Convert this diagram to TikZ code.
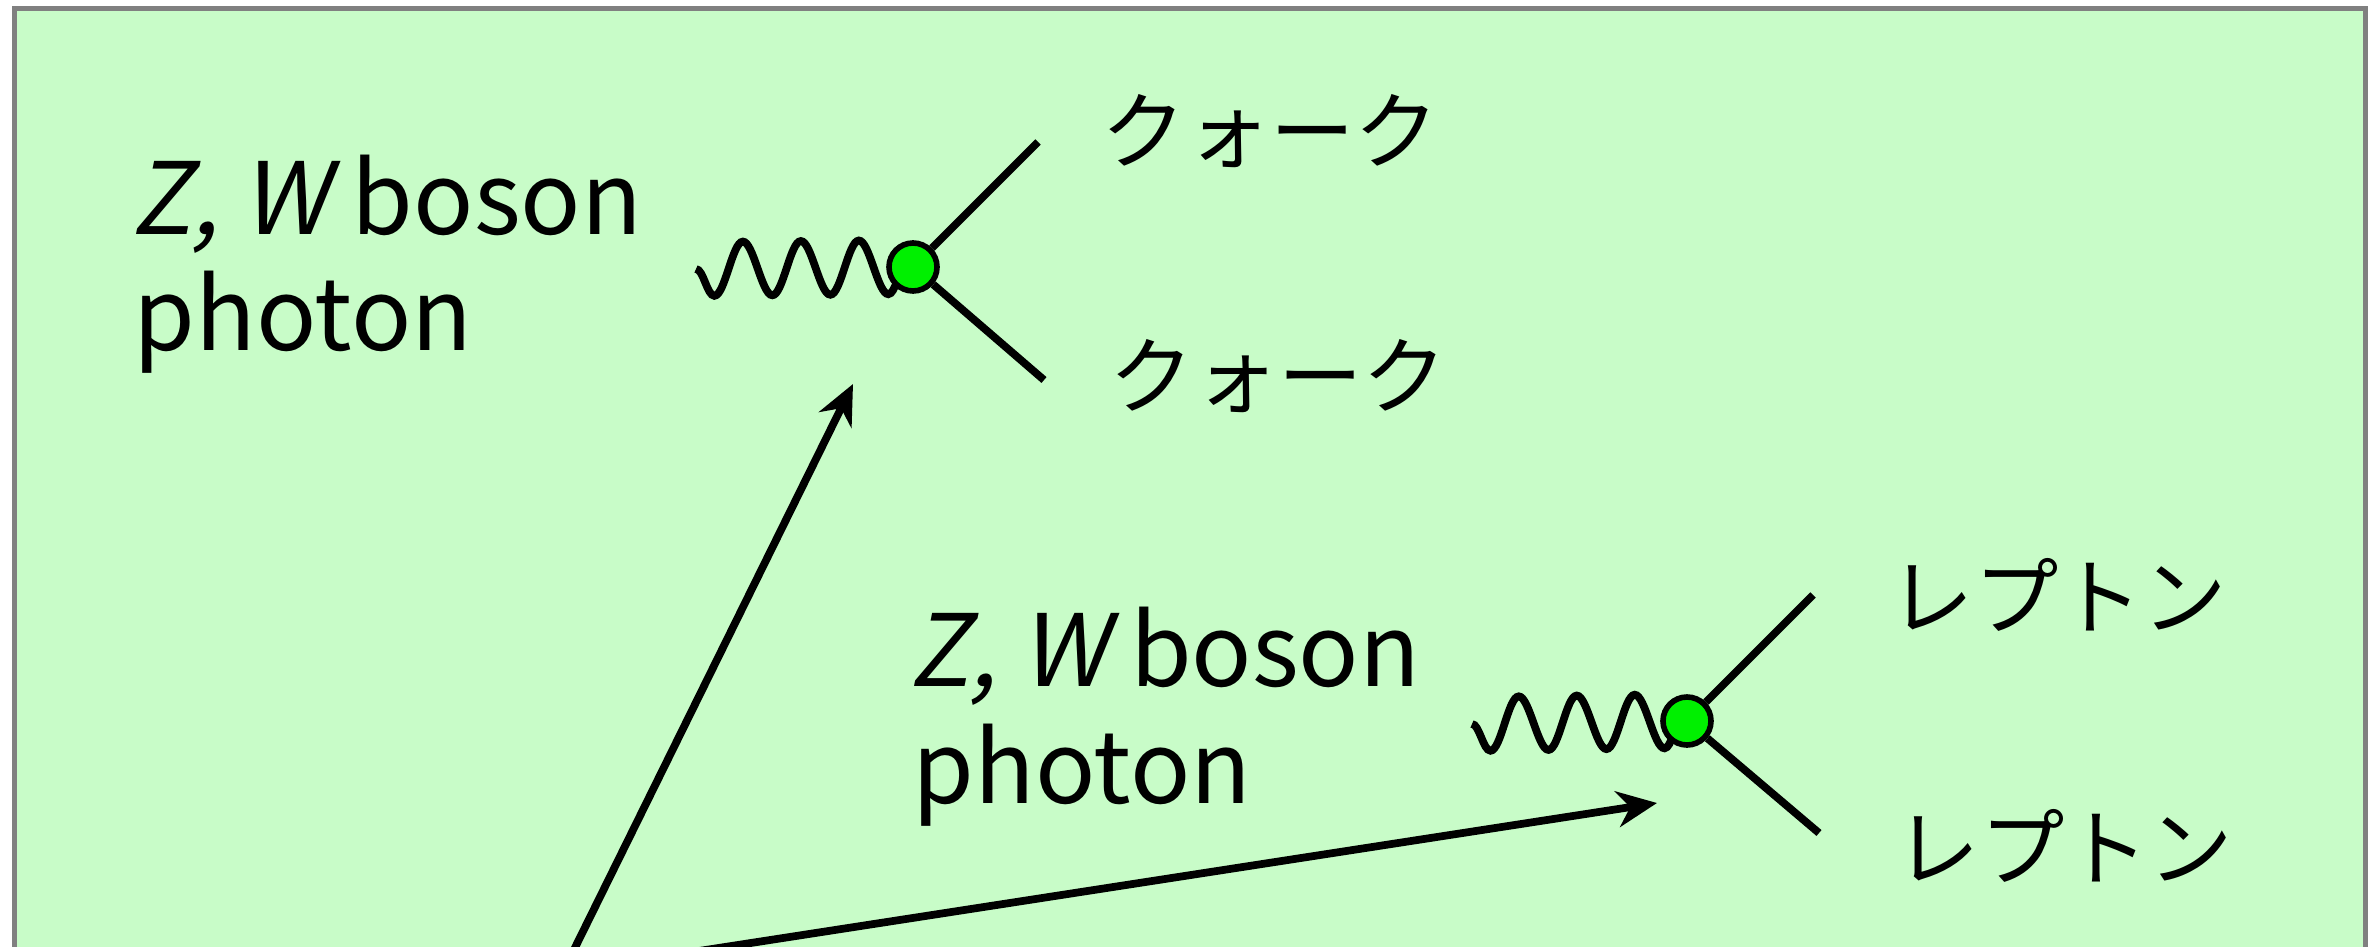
\documentclass[tikz,border=0pt]{standalone}
\usepackage{fontspec}
\setmainfont{Noto Sans CJK JP}[AutoFakeSlant=0.2]
\newfontfamily\jpfont{Noto Sans CJK JP}
\usetikzlibrary{arrows.meta}
\usetikzlibrary{decorations.pathmorphing}
\usetikzlibrary{backgrounds}
\pgfdeclarelayer{edgelayer}
\pgfdeclarelayer{nodelayer}
\pgfsetlayers{background,edgelayer,nodelayer,main}
\definecolor{panelgreen}{RGB}{200,252,200}
\definecolor{vertexgreen}{RGB}{0,240,0}
\tikzstyle{none}=[inner sep=0mm]
\tikzstyle{vertex}=[shape=circle,draw=black,line width=1.6pt,fill=vertexgreen,minimum size=0.48cm,inner sep=0pt]
\tikzstyle{photon}=[decorate,decoration={snake,amplitude=0.27cm,segment length=0.58cm,mirror},line width=2.2pt]
\tikzstyle{fermion}=[line width=2.2pt]
\tikzstyle{flight}=[line width=2.2pt,-{Stealth[length=0.4cm,width=0.36cm]}]
\tikzstyle{boson label}=[inner sep=0mm,anchor=base west,font=\fontsize{28.4}{34}\selectfont]
\tikzstyle{particle label}=[inner sep=0mm,anchor=west,font=\jpfont\fontsize{24}{28}\selectfont]
\tikzstyle{panel}=[fill=panelgreen,draw=gray,line width=0.05cm]

\begin{document}
\begin{tikzpicture}
	\useasboundingbox (0,0) rectangle (23.75,-9.47);
	\begin{pgfonlayer}{background}
		\clip (0,0) rectangle (23.75,-9.47);
		\draw [style=panel] (0.15,-0.085) rectangle (23.655,-10.5);
	\end{pgfonlayer}
	\begin{pgfonlayer}{nodelayer}
		% upper decay: quarks
		\node [style=vertex] (0) at (9.13,-2.67) {};
		\node [style=none] (1) at (6.96,-2.69) {};
		\node [style=none] (2) at (10.38,-1.42) {};
		\node [style=none] (3) at (10.44,-3.80) {};
		\node [style=particle label] (4) at (11.01,-1.31) {クォーク};
		\node [style=particle label] (5) at (11.09,-3.76) {クォーク};
		\node [style=boson label] (6) at (1.31,-2.35) {\textit{Z, W} boson};
		\node [style=boson label] (7) at (1.33,-3.51) {photon};
		% lower decay: leptons
		\node [style=vertex] (8) at (16.87,-7.21) {};
		\node [style=none] (9) at (14.72,-7.24) {};
		\node [style=none] (10) at (18.13,-5.95) {};
		\node [style=none] (11) at (18.19,-8.33) {};
		\node [style=particle label] (12) at (18.89,-5.95) {レプトン};
		\node [style=particle label] (13) at (18.95,-8.46) {レプトン};
		\node [style=boson label] (14) at (9.09,-6.86) {\textit{Z, W} boson};
		\node [style=boson label] (15) at (9.12,-8.03) {photon};
		% production point, below the frame
		\node [style=none] (16) at (5.63,-9.72) {};
		\node [style=none] (17) at (8.53,-3.84) {};
		\node [style=none] (18) at (16.57,-8.03) {};
	\end{pgfonlayer}
	\begin{pgfonlayer}{edgelayer}
		\clip (0,0) rectangle (23.75,-9.47);
		\draw [style=photon] (1.center) to (0.center);
		\draw [style=fermion] (0) to (2.center);
		\draw [style=fermion] (0) to (3.center);
		\draw [style=photon] (9.center) to (8.center);
		\draw [style=fermion] (8) to (10.center);
		\draw [style=fermion] (8) to (11.center);
		\draw [style=flight] (16.center) to (17.center);
		\draw [style=flight] (16.center) to (18.center);
	\end{pgfonlayer}
\end{tikzpicture}
\end{document}
